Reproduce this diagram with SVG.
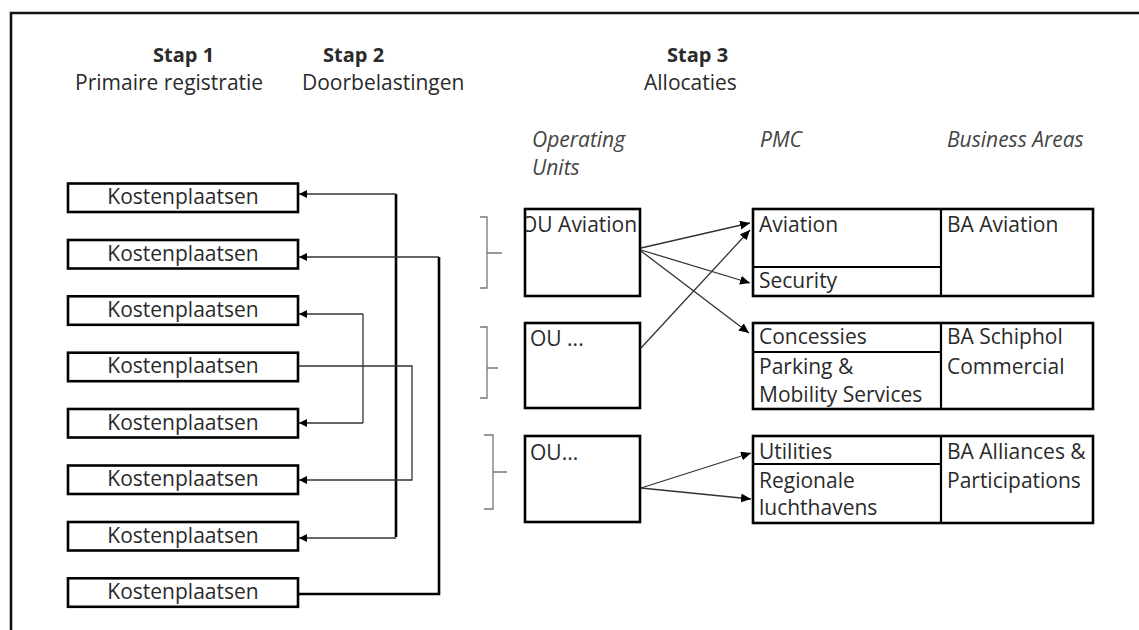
<svg xmlns="http://www.w3.org/2000/svg" width="1139" height="630" viewBox="0 0 1139 630">
<style>
text{font-family:"Open Sans","Noto Sans","Liberation Sans",sans-serif;font-size:21px;fill:#2a2a2a}
.b{font-weight:bold;font-size:20px}
.i{font-style:italic;fill:#444}
.kp{text-anchor:middle}
.box{fill:#fff;stroke:#000;stroke-width:2.6}
.cell{fill:none;stroke:#000;stroke-width:2.2}
.thick{fill:none;stroke:#000;stroke-width:2.6}
.thin{fill:none;stroke:#333;stroke-width:1.3}
.br{fill:none;stroke:#777;stroke-width:1.3}
</style>
<defs>
<marker id="ah" markerUnits="userSpaceOnUse" markerWidth="10" markerHeight="9" refX="10" refY="4.5" orient="auto"><path d="M0,0 L10,4.5 L0,9 z" fill="#000"/></marker>
<marker id="ahs" markerUnits="userSpaceOnUse" markerWidth="8" markerHeight="8" refX="8" refY="4" orient="auto"><path d="M0,0 L8,4 L0,8 z" fill="#000"/></marker>
<clipPath id="ouclip"><rect x="526" y="210" width="113" height="85"/></clipPath>
</defs>

<path id="frame" d="M11,630 V13 H1139" fill="none" stroke="#111" stroke-width="2.6"/>

<g id="headers">
<text class="b" x="153" y="62">Stap 1</text>
<text x="75" y="90">Primaire registratie</text>
<text class="b" x="323" y="62">Stap 2</text>
<text x="302" y="90">Doorbelastingen</text>
<text class="b" x="667" y="62">Stap 3</text>
<text x="644" y="90">Allocaties</text>
<text class="i" x="532" y="147">Operating</text>
<text class="i" x="532" y="175">Units</text>
<text class="i" x="760" y="147">PMC</text>
<text class="i" x="947" y="147">Business Areas</text>
</g>

<g id="kp1"><rect class="box" x="68" y="183.5" width="230" height="28.5"/><text class="kp" x="183" y="204">Kostenplaatsen</text></g>
<g id="kp2"><rect class="box" x="68" y="240" width="230" height="28.5"/><text class="kp" x="183" y="260.5">Kostenplaatsen</text></g>
<g id="kp3"><rect class="box" x="68" y="296.3" width="230" height="28.5"/><text class="kp" x="183" y="317">Kostenplaatsen</text></g>
<g id="kp4"><rect class="box" x="68" y="352.7" width="230" height="28.5"/><text class="kp" x="183" y="373">Kostenplaatsen</text></g>
<g id="kp5"><rect class="box" x="68" y="409" width="230" height="28.5"/><text class="kp" x="183" y="429.5">Kostenplaatsen</text></g>
<g id="kp6"><rect class="box" x="68" y="465.5" width="230" height="28.5"/><text class="kp" x="183" y="486">Kostenplaatsen</text></g>
<g id="kp7"><rect class="box" x="68" y="522" width="230" height="28.5"/><text class="kp" x="183" y="542.5">Kostenplaatsen</text></g>
<g id="kp8"><rect class="box" x="68" y="578.3" width="230" height="28.5"/><text class="kp" x="183" y="599">Kostenplaatsen</text></g>

<g id="brackets">
<path class="br" d="M480,217 H487 V288 H480 M487,253 H502"/>
<path class="br" d="M480,327 H487 V398 H480 M487,368 H498"/>
<path class="br" d="M484,435 H493 V509 H484 M493,472 H507"/>
</g>

<g id="ou1"><rect class="box" x="525" y="209" width="115" height="87"/><text x="521" y="232" clip-path="url(#ouclip)">OU Aviation</text></g>
<g id="ou2"><rect class="box" x="525" y="323" width="115" height="85"/><text x="530" y="346">OU ...</text></g>
<g id="ou3"><rect class="box" x="525" y="436" width="115" height="86"/><text x="530" y="460">OU...</text></g>

<g id="pmc1">
<rect class="box" x="753" y="209" width="340" height="87"/>
<path class="cell" d="M941,209 V296 M753,267 H941"/>
<text x="759" y="232">Aviation</text>
<text x="759" y="288">Security</text>
<text x="947" y="232">BA Aviation</text>
</g>
<g id="pmc2">
<rect class="box" x="753" y="323" width="340" height="86"/>
<path class="cell" d="M941,323 V409 M753,352 H941"/>
<text x="759" y="344">Concessies</text>
<text x="759" y="374">Parking &amp;</text>
<text x="759" y="402">Mobility Services</text>
<text x="947" y="344">BA Schiphol</text>
<text x="947" y="374">Commercial</text>
</g>
<g id="pmc3">
<rect class="box" x="753" y="436" width="340" height="87"/>
<path class="cell" d="M941,436 V523 M753,464 H941"/>
<text x="759" y="459">Utilities</text>
<text x="759" y="488">Regionale</text>
<text x="759" y="515">luchthavens</text>
<text x="947" y="459">BA Alliances &amp;</text>
<text x="947" y="488">Participations</text>
</g>

<g id="connectors">
<path class="thick" d="M396,194 V537"/>
<path class="thin" d="M396,194 H299" marker-end="url(#ahs)"/>
<path class="thin" d="M396,538 H299" marker-end="url(#ahs)"/>
<path class="thick" d="M299,594 H439 V257"/>
<path class="thin" d="M439,257 H299" marker-end="url(#ahs)"/>
<path class="thin" d="M363,423 V314"/>
<path class="thin" d="M363,314 H299" marker-end="url(#ahs)"/>
<path class="thin" d="M363,423 H299" marker-end="url(#ahs)"/>
<path class="thin" d="M299,366 H412 V480 H299" marker-end="url(#ahs)"/>

<path class="thin" d="M641,248 L750,223" marker-end="url(#ah)"/>
<path class="thin" d="M641,250 L750,283" marker-end="url(#ah)"/>
<path class="thin" d="M641,251 L749,333" marker-end="url(#ah)"/>
<path class="thin" d="M641,348 L750,230" marker-end="url(#ah)"/>
<path class="thin" d="M641,488 L751,453" marker-end="url(#ah)"/>
<path class="thin" d="M641,488 L751,499" marker-end="url(#ah)"/>
</g>
</svg>
